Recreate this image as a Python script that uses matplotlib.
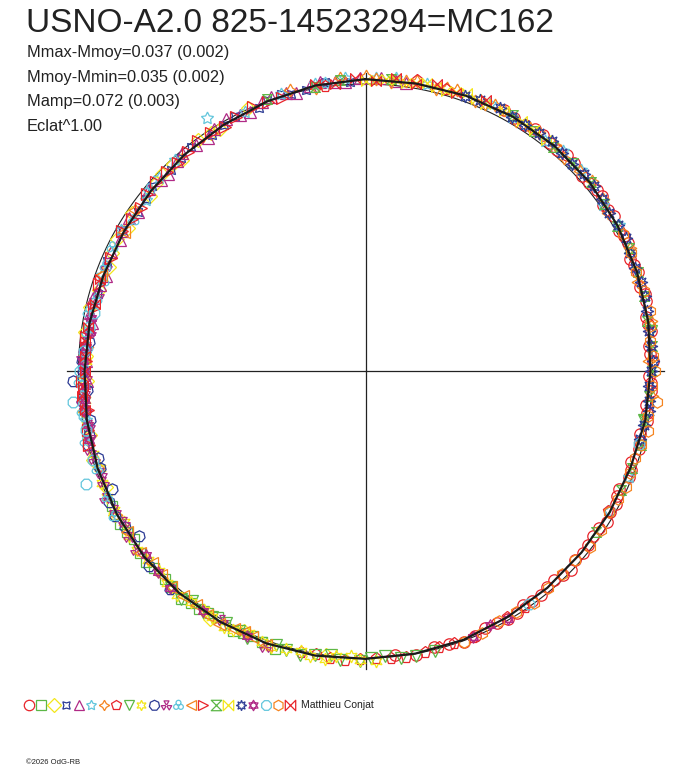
import numpy as np
import matplotlib
matplotlib.use('Agg')
import matplotlib.pyplot as plt
from matplotlib.path import Path

plt.rcParams['font.family'] = ['Liberation Sans', 'DejaVu Sans']

title = 'USNO-A2.0 825-14523294=MC162'
stats_lines = ['Mmax-Mmoy=0.037 (0.002)', 'Mmoy-Mmin=0.035 (0.002)',
               'Mamp=0.072 (0.003)', 'Eclat^1.00']
observer = 'Matthieu Conjat'
credit = '\u00a92026 OdG-RB'

# fitted light curve, phase in degrees (clockwise from top), relative brightness deviation
fit_phase = [0, 10, 20, 30, 40, 50, 60, 70, 80, 90, 100, 110, 120, 130, 140, 150, 160, 170,
             180, 190, 200, 210, 220, 230, 240, 250, 260, 270, 280, 290, 300, 310, 320, 330, 340, 350]
fit_dev = [.017, .017, .021, .024, .024, .021, .014, .007, .000, -.007, -.010, -.017, -.017, -.017,
           -.014, -.010, -.003, .000, .003, .007, .010, .010, .010, .007, .000, -.007, -.014, -.021,
           -.024, -.028, -.028, -.024, -.017, -.010, .000, .010]

# measurements per session
s01_phase = [28, 33, 37, 41, 45, 48, 52, 55, 58, 61, 64, 67, 70, 73, 76, 79, 82, 85, 88, 91,
             94, 97, 100, 103, 106, 109, 112, 115, 118, 122, 126, 130, 134, 138, 142, 146, 150, 155, 160, 166,
             30.5, 35, 39, 43, 50, 53.5, 56.5, 62.5, 68.5, 74.5, 80.5, 86.5, 92.5, 98.5, 104.5, 110.5,
             116.5, 120, 124, 128, 132, 136, 140, 144, 148, 152.5, 157.5, 163, 170, 174]
s01_dev = [.030, .020, .028, .018, .027, .015, .024, .010, .020, .008, .018, .003, .012, .000, .008, -.006,
           .004, -.009, .002, -.012, -.002, -.014, -.004, -.018, -.008, -.022, -.010, -.024, -.012, -.006,
           -.022, -.011, -.004, -.020, -.008, -.016, -.004, -.013, .003, -.008,
           .022, .030, .021, .029, .017, .026, .014, .016, .006, .010, -.002, -.006, -.004, -.010, -.012,
           -.014, -.020, -.016, -.020, -.014, -.018, -.010, -.016, -.011, -.007, -.010, -.002, -.004, .004, -.004]
s02_phase = [198, 203, 207, 211, 215, 219, 224, 229, 234, 238, 201, 205, 209, 213, 217, 222, 227, 231, 236, 242]
s02_dev = [.018, .004, .016, .000, .012, .022, .006, .014, -.002, .008,
           .010, .008, .012, .006, .010, .014, .008, .010, .004, .002]
s03_phase = [262, 268, 283, 292, 298, 304, 309, 314, 319, 324, 329, 336, 205, 212, 188,
             240, 246, 252, 257, 273, 278, 287, 295, 301, 312, 317, 327]
s03_dev = [-.008, -.028, -.016, -.036, -.020, -.018, -.032, -.012, -.026, -.006, -.018, .004, .000, .020, -.002,
           .006, -.010, -.002, -.016, -.026, -.014, -.030, -.024, -.034, -.020, -.014, -.010]
s04_phase = [300, 305, 311, 316, 322, 327, 333, 338, 343, 348, 352, 357, 275, 286, 293, 308, 319, 330, 340, 345]
s04_dev = [-.020, -.032, -.016, -.026, -.010, -.020, -.002, -.010, .008, .000, .018, .010,
           -.016, -.030, -.022, -.028, -.018, -.012, .004, -.002]
s05_phase = [275, 280, 285, 290, 295, 300, 305, 310, 315, 320, 326, 331, 336, 341, 346, 351, 356, 3, 8, 268,
             272, 282, 288, 298, 303, 313, 318, 323, 328, 334, 339, 344, 349, 354, 359, 6]
s05_dev = [-.014, -.032, -.018, -.036, -.020, -.022, -.034, -.014, -.028, -.008, -.020, .002, -.012, .010,
           -.002, .020, .008, .024, .012, -.030,
           -.024, -.020, -.026, -.030, -.018, -.024, -.016, -.016, -.004, -.006, .004, .008, .012, .014, .020, .016]
s06_phase = [300, 318, 328, 335, 343, 350, 356, 2, 25, 38, 47, 55, 112, 120,
             260, 270, 290, 308, 313, 352, 6, 12, 30, 42, 60]
s06_dev = [-.018, -.010, .041, -.004, .010, .016, .022, .020, .028, .016, .026, .010, -.010, -.022,
           -.010, -.018, -.022, -.030, -.016, .014, .026, .024, .020, .030, .018]
s07_phase = [345, 350, 355, 0, 5, 10, 14, 18, 22, 26, 31, 36, 43, 50, 57, 65, 72, 80, 88, 95,
             2, 8, 16, 24, 28, 34, 40, 47, 54, 240, 250, 262, 275, 290, 305]
s07_dev = [.012, .002, .024, .028, .010, .025, .012, .030, .014, .032, .016, .030, .014, .028, .008, .018,
           -.002, .010, -.012, .002,
           .018, .022, .024, .020, .028, .022, .026, .020, .022, .004, -.012, -.010, -.026, -.024, -.020]
s08_phase = [150, 158, 165, 172, 178, 184, 190, 10, 16, 352, 120, 146, 162, 168, 175, 181, 187, 193]
s08_dev = [-.012, .000, -.006, .008, .000, .010, .002, .028, .022, .004, -.024,
           -.008, -.002, .000, .004, .004, .008, .006]
s09_phase = [170, 176, 181, 187, 193, 198, 204, 209, 214, 219, 82, 100,
             166, 173, 179, 185, 190, 196, 201, 206, 212, 217, 222]
s09_dev = [.010, -.004, .012, -.002, .016, .004, .018, .002, .014, .022, .006, -.016,
           .004, .006, .000, .010, .004, .010, .014, .006, .010, .004, .012]
s10_phase = [178, 183, 188, 193, 199, 204, 209, 214, 220, 226, 232, 238, 244, 250, 256,
             181, 186, 191, 196, 201, 207, 212, 217, 223, 229, 235, 241, 247, 253, 259, 264, 268, 272]
s10_dev = [.012, -.004, .014, .002, .016, .000, .018, .004, .020, .002, .012, -.006, .004, -.014, -.004,
           .006, .000, .010, .006, .010, .014, .010, .008, .012, .006, .004, .002, -.004, -.008, -.010,
           -.018, -.012, -.026]
s11_phase = [228, 234, 240, 245, 250, 255, 260, 264, 268, 272, 276, 222, 237, 243, 252, 257, 262, 266, 270, 274]
s11_dev = [.016, -.024, .008, -.026, -.016, .000, -.024, -.006, .021, -.010, -.030, .020,
           .000, .004, -.020, -.010, -.012, -.028, -.016, -.022]
s12_phase = [232, 238, 244, 249, 254, 259, 264, 269, 273, 278, 284, 200, 210,
             235, 241, 247, 252, 257, 262, 266, 271, 276, 281, 286, 292]
s12_dev = [.014, -.006, .010, -.012, -.002, -.020, -.008, -.026, -.012, -.030, -.018, .022, .000,
           .006, -.002, -.008, -.004, -.014, -.016, -.018, -.020, -.018, -.024, -.030, -.026]
s13_phase = [256, 262, 268, 275, 282, 289, 296, 303, 310, 240, 244, 250, 259, 265, 271, 278, 285, 292]
s13_dev = [.006, -.004, .000, -.026, -.010, -.032, -.018, -.034, -.016, .012,
           .004, -.004, -.010, -.012, -.016, -.020, -.028, -.022]
s14_phase = [200, 205, 210, 216, 222, 228, 290, 300, 203, 207, 213, 219, 225, 231, 236]
s14_dev = [.016, .004, .018, .006, .014, .002, -.020, -.030, .008, .010, .012, .008, .006, .010, .004]
s15_phase = [255, 262, 268, 300, 306, 312, 318, 324, 330, 337, 343,
             258, 265, 272, 277, 283, 288, 294, 303, 309, 315, 321, 327, 333, 340]
s15_dev = [-.004, -.022, -.012, -.022, -.034, -.016, -.026, -.008, -.018, .000, -.006,
           -.012, -.016, -.024, -.020, -.030, -.022, -.028, -.028, -.022, -.020, -.016, -.010, -.008, -.002]
s16_phase = [30, 40, 50, 60, 70, 80, 90, 100, 110, 125, 340, 350, 35, 45, 55, 65, 75, 85, 95, 105, 115, 355, 5]
s16_dev = [.030, .018, .026, .012, .010, -.004, -.002, -.014, -.010, -.020, .008, .004,
           .022, .024, .016, .014, .004, .002, -.008, -.008, -.016, .018, .022]
s17_phase = [0, 4, 8, 12, 16, 20, 24, 32, 38, 2, 6, 10, 14, 18, 22, 28, 35]
s17_dev = [.010, .020, .012, .026, .014, .032, .020, .028, .020, .016, .018, .020, .020, .022, .024, .026, .024]
s18_phase = [20, 27, 33, 39, 45, 51, 57, 63, 69, 75, 82, 88, 93, 98, 104,
             23, 30, 36, 42, 48, 54, 60, 66, 72, 78, 85, 90, 96, 101]
s18_dev = [.018, .030, .020, .030, .018, .026, .012, .020, .004, .010, -.004, .004, -.010, -.004, -.016,
           .024, .020, .026, .022, .024, .018, .016, .010, .008, .002, .000, -.004, -.006, -.010]
s19_phase = [150, 154, 158, 262, 267, 272, 278, 222, 230, 204, 256, 259, 264, 270, 275, 281, 214, 226]
s19_dev = [-.004, -.014, -.002, -.008, -.022, -.014, -.030, .016, .000, .012,
           -.006, -.014, -.018, -.020, -.024, -.024, .010, .006]
s20_phase = [248, 258, 264, 270, 282, 145, 105, 252, 261, 267, 274, 279]
s20_dev = [.049, -.004, .025, -.006, -.032, -.008, -.012, -.002, -.008, -.014, -.018, -.026]
s21_phase = [62, 70, 78, 84, 90, 96, 102, 108, 114, 120, 128, 136, 144, 152, 160,
             66, 74, 81, 87, 93, 99, 105, 111, 117, 124, 132, 140, 148, 156]
s21_dev = [.018, .004, .012, -.002, .010, .020, .006, -.014, -.008, -.020, -.006, -.016, -.002, -.012, .004,
           .012, .010, .002, .004, .000, -.002, -.008, -.012, -.014, -.012, -.016, -.012, -.008, -.002]
s22_phase = [350, 354, 358, 2, 6, 10, 14, 18, 24, 265, 270, 276, 262, 267, 273, 279, 284, 289]
s22_dev = [.016, .006, .022, .012, .026, .014, .030, .020, .034, -.010, -.024, -.016,
           -.014, -.016, -.020, -.022, -.028, -.020]

session_phases = [s01_phase, s02_phase, s03_phase, s04_phase, s05_phase, s06_phase, s07_phase,
                  s08_phase, s09_phase, s10_phase, s11_phase, s12_phase, s13_phase, s14_phase,
                  s15_phase, s16_phase, s17_phase, s18_phase, s19_phase, s20_phase, s21_phase, s22_phase]
session_devs = [s01_dev, s02_dev, s03_dev, s04_dev, s05_dev, s06_dev, s07_dev, s08_dev, s09_dev,
                s10_dev, s11_dev, s12_dev, s13_dev, s14_dev, s15_dev, s16_dev, s17_dev, s18_dev,
                s19_dev, s20_dev, s21_dev, s22_dev]

# marker shapes
def blades():
    verts, codes = [], []
    for a in (90, 210, 330):
        pts = []
        for ang, rr in ((a - 28, 0.25), (a - 28, 1.0), (a + 28, 1.0), (a + 28, 0.25)):
            t = np.deg2rad(ang)
            pts.append((rr * np.cos(t), rr * np.sin(t)))
        verts += pts + [pts[0]]
        codes += [Path.MOVETO, Path.LINETO, Path.LINETO, Path.LINETO, Path.CLOSEPOLY]
    return Path(verts, codes)

def trefoil():
    parts = []
    for a in (90, 210, 330):
        t = np.deg2rad(a)
        parts.append(Path.circle((0.5 * np.cos(t), 0.5 * np.sin(t)), 0.45))
    return Path.make_compound_path(*parts)

def david():
    up = Path.unit_regular_polygon(3)
    down = Path(-up.vertices, up.codes)
    return Path.make_compound_path(up, down)

C4 = [Path.MOVETO, Path.LINETO, Path.LINETO, Path.LINETO, Path.CLOSEPOLY]
hourglass = Path([(-1, 1), (1, 1), (-1, -1), (1, -1), (-1, 1)], C4)
bowtie = Path([(-1, 1), (-1, -1), (1, 1), (1, -1), (-1, 1)], C4)

markers = ['o', 's', 'D', (4, 1, 45), '^', (5, 1, 0), (4, 1, 0), 'p', 'v', (6, 1, 0), (7, 0, 0),
           blades(), trefoil(), '<', '>', hourglass, bowtie, (8, 1, 0), david(), (8, 0, 22.5), 'h', bowtie]
msizes = [8.2, 7, 7, 8.2, 8.2, 9.2, 9.2, 8.2, 8.2, 9.2, 8.2, 8.2, 8.2, 8.2, 8.2, 7, 7, 9.2, 8.2, 8.2, 8.2, 7]
palette = ['#e8242a', '#5cb746', '#f3e61a', '#2c3b94', '#b02a86', '#62c6dc', '#f5841f']
colors = [palette[i % 7] for i in range(22)]

fig = plt.figure(figsize=(6.88, 7.68), dpi=100)
W, H = 688, 768
cx, cy, R0, RMAX = 365.5, 371, 287, 1.1
half = R0 * RMAX
ax = fig.add_axes([(cx - half) / W, (H - cy - half) / H, 2 * half / W, 2 * half / H], projection='polar')
ax.set_theta_zero_location('N')
ax.set_theta_direction(-1)
ax.set_ylim(0, RMAX)
ax.grid(False)
ax.set_xticks([])
ax.set_yticks([])
ax.spines['polar'].set_visible(False)
ax.patch.set_alpha(0)

# cross
for a in (0, 90, 180, 270):
    ax.plot([np.deg2rad(a)] * 2, [0, 1.04], color='#222222', lw=0.9, zorder=1)
# mean circle
tt = np.linspace(0, 2 * np.pi, 721)
ax.plot(tt, np.ones_like(tt), color='#222222', lw=0.8, zorder=1)

for ph, dv, mk, ms, col in zip(session_phases, session_devs, markers, msizes, colors):
    ax.plot(np.deg2rad(ph), 1 + np.array(dv), linestyle='none', marker=mk, markersize=ms,
            markerfacecolor='none', markeredgecolor=col, markeredgewidth=0.9, zorder=3, clip_on=False)

fp = np.deg2rad(fit_phase + [fit_phase[0] + 360])
fr = 1 + np.array(fit_dev + [fit_dev[0]])
ax.plot(fp, fr, color='#1a1a1a', lw=1.6, zorder=5)

# text and legend overlay
lax = fig.add_axes([0, 0, 1, 1])
lax.set_xlim(0, W)
lax.set_ylim(H, 0)
lax.axis('off')
lax.text(26, 32, title, fontsize=24, color='#222222', va='baseline', ha='left')
for i, s in enumerate(stats_lines):
    lax.text(27, 57 + 24.6 * i, s, fontsize=11.8, color='#222222', va='baseline', ha='left')

for i, (mk, col) in enumerate(zip(markers, colors)):
    lax.plot(29 + 12.45 * i, 705, marker=mk, markersize=7.5, markerfacecolor='none',
             markeredgecolor=col, markeredgewidth=0.9, linestyle='none')
lax.text(301, 705, observer, fontsize=7.5, color='#222222', va='center', ha='left')
lax.text(26, 763, credit, fontsize=5.5, color='#222222', va='center', ha='left')

fig.savefig('out.png', dpi=100)
